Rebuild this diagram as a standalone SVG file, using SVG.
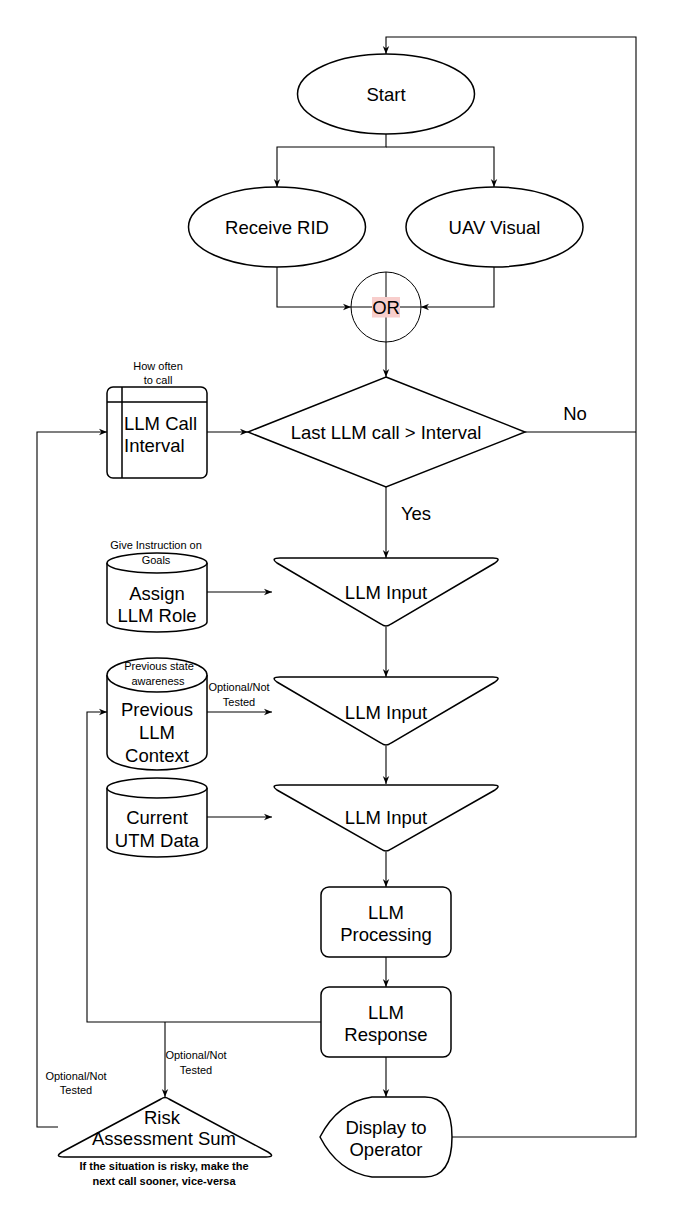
<svg xmlns="http://www.w3.org/2000/svg" width="675" height="1218" viewBox="0 0 675 1218">
<defs>
<marker id="arr" viewBox="0 0 10 10" refX="10" refY="5" markerWidth="8" markerHeight="8" markerUnits="userSpaceOnUse" orient="auto"><path d="M0,1 L10,5 L0,9 L3,5 Z" fill="#000"/></marker>
<style>
.s{fill:#fff;stroke:#000;stroke-width:1.5}
.c{fill:none;stroke:#000;stroke-width:1.1}
.t{font-family:"Liberation Sans",Arial,sans-serif;font-size:18.5px;fill:#000;text-anchor:middle;dominant-baseline:central}
.sm{font-family:"Liberation Sans",Arial,sans-serif;font-size:11px;fill:#000;text-anchor:middle;dominant-baseline:central}
.b{font-weight:bold}
</style>
</defs>
<rect width="675" height="1218" fill="#fff"/>
<g id="connectors">
<path class="c" d="M386,134 V147 H277 V187" marker-end="url(#arr)"/>
<path class="c" d="M386,147 H494 V187" marker-end="url(#arr)"/>
<path class="c" d="M277,267 V307 H351" marker-end="url(#arr)"/>
<path class="c" d="M494,267 V307 H421" marker-end="url(#arr)"/>
<path class="c" d="M386,342 V377" marker-end="url(#arr)"/>
<path class="c" d="M207,432 H248" marker-end="url(#arr)"/>
<path class="c" d="M525,432 H636"/>
<path class="c" d="M452,1137 H636 V37 H386 V54" marker-end="url(#arr)"/>
<path class="c" d="M386,487 V558" marker-end="url(#arr)"/>
<path class="c" d="M386,627 V677" marker-end="url(#arr)"/>
<path class="c" d="M386,746 V784" marker-end="url(#arr)"/>
<path class="c" d="M386,852 V887" marker-end="url(#arr)"/>
<path class="c" d="M386,957 V987" marker-end="url(#arr)"/>
<path class="c" d="M386,1057 V1097" marker-end="url(#arr)"/>
<path class="c" d="M207,592 H272" marker-end="url(#arr)"/>
<path class="c" d="M207,712 H272" marker-end="url(#arr)"/>
<path class="c" d="M207,817 H272" marker-end="url(#arr)"/>
<path class="c" d="M321,1022 H87 V712 H107" marker-end="url(#arr)"/>
<path class="c" d="M165,1022 V1097" marker-end="url(#arr)"/>
<path class="c" d="M58,1127 H37 V432 H107" marker-end="url(#arr)"/>
<text class="t" x="575" y="413">No</text>
<text class="t" x="416" y="513">Yes</text>
<text class="sm" x="239" y="687">Optional/Not</text>
<text class="sm" x="239" y="702">Tested</text>
<text class="sm" x="196" y="1055">Optional/Not</text>
<text class="sm" x="196" y="1070">Tested</text>
<text class="sm" x="76" y="1076">Optional/Not</text>
<text class="sm" x="76" y="1090">Tested</text>
</g>
<g id="start">
<ellipse class="s" cx="386" cy="94" rx="88.5" ry="40"/>
<text class="t" x="386" y="94">Start</text>
</g>
<g id="receive-rid">
<ellipse class="s" cx="277" cy="227" rx="88.5" ry="40"/>
<text class="t" x="277" y="227">Receive RID</text>
</g>
<g id="uav-visual">
<ellipse class="s" cx="494.5" cy="227" rx="88.5" ry="40"/>
<text class="t" x="494.5" y="227">UAV Visual</text>
</g>
<g id="or">
<circle cx="386" cy="307" r="35" fill="#fff" stroke="#000" stroke-width="1"/>
<path d="M386,272 V342 M351,307 H421" stroke="#000" stroke-width="1" fill="none"/>
<rect x="372" y="297" width="28" height="20.5" fill="#F8CECC"/>
<text class="t" x="386" y="307">OR</text>
</g>
<g id="llm-call-interval">
<rect class="s" x="107" y="387" width="100" height="91" rx="6"/>
<path d="M122,387 V478 M107,402 H207" stroke="#000" stroke-width="1.5" fill="none"/>
<text class="t" x="124" y="423" style="text-anchor:start">LLM Call</text>
<text class="t" x="124" y="445" style="text-anchor:start">Interval</text>
<text class="sm" x="158" y="366">How often</text>
<text class="sm" x="158" y="380">to call</text>
</g>
<g id="decision">
<path class="s" d="M386,377 L525,432 L386,487 L248,432 Z"/>
<text class="t" x="386" y="432">Last LLM call &gt; Interval</text>
</g>
<g id="assign-role">
<path class="s" d="M107,563 V622 A50,10 0 0 0 207,622 V563"/>
<ellipse class="s" cx="157" cy="563" rx="50" ry="10"/>
<text class="t" x="157" y="593">Assign</text>
<text class="t" x="157" y="615">LLM Role</text>
<text class="sm" x="156" y="545">Give Instruction on</text>
<text class="sm" x="156" y="560">Goals</text>
</g>
<g id="previous-context">
<path class="s" d="M107,675 V754 A50,16 0 0 0 207,754 V675"/>
<ellipse class="s" cx="157" cy="675" rx="50" ry="17"/>
<text class="sm" x="159" y="666">Previous state</text>
<text class="sm" x="158" y="681">awareness</text>
<text class="t" x="157" y="709">Previous</text>
<text class="t" x="157" y="732">LLM</text>
<text class="t" x="157" y="755">Context</text>
</g>
<g id="current-utm">
<path class="s" d="M107,788 V847 A50,10 0 0 0 207,847 V788"/>
<ellipse class="s" cx="157" cy="788" rx="50" ry="10"/>
<text class="t" x="157" y="817">Current</text>
<text class="t" x="157" y="840">UTM Data</text>
</g>
<g id="llm-input-1">
<path class="s" d="M280,558 L493,558 Q502,558 495,563 L391,624 Q386,628 381,624 L277,563 Q270,558 280,558 Z"/>
<text class="t" x="386" y="592">LLM Input</text>
</g>
<g id="llm-input-2">
<path class="s" d="M280,677 L493,677 Q502,677 495,682 L391,743 Q386,747 381,743 L277,682 Q270,677 280,677 Z"/>
<text class="t" x="386" y="712">LLM Input</text>
</g>
<g id="llm-input-3">
<path class="s" d="M280,785 L493,785 Q502,785 495,790 L391,849 Q386,853 381,849 L277,790 Q270,785 280,785 Z"/>
<text class="t" x="386" y="817">LLM Input</text>
</g>
<g id="llm-processing">
<rect class="s" x="321" y="887" width="130" height="70" rx="8"/>
<text class="t" x="386" y="912">LLM</text>
<text class="t" x="386" y="934">Processing</text>
</g>
<g id="llm-response">
<rect class="s" x="321" y="987" width="130" height="70" rx="8"/>
<text class="t" x="386" y="1012">LLM</text>
<text class="t" x="386" y="1034">Response</text>
</g>
<g id="risk-assessment">
<path class="s" d="M161,1099 Q165,1096 169,1099 L268,1152 Q276,1157 266,1157 L64,1157 Q54,1157 62,1152 Z"/>
<text class="t" x="162" y="1117">Risk</text>
<text class="t" x="164" y="1138">Assessment Sum</text>
<text class="sm b" x="164" y="1166">If the situation is risky, make the</text>
<text class="sm b" x="164" y="1181">next call sooner, vice-versa</text>
</g>
<g id="display-operator">
<path class="s" d="M320,1137 Q338,1102 372,1097 L425,1097 Q452,1097 452,1137 Q452,1177 425,1177 L372,1177 Q338,1172 320,1137 Z"/>
<text class="t" x="386" y="1127">Display to</text>
<text class="t" x="386" y="1149">Operator</text>
</g>
</svg>
